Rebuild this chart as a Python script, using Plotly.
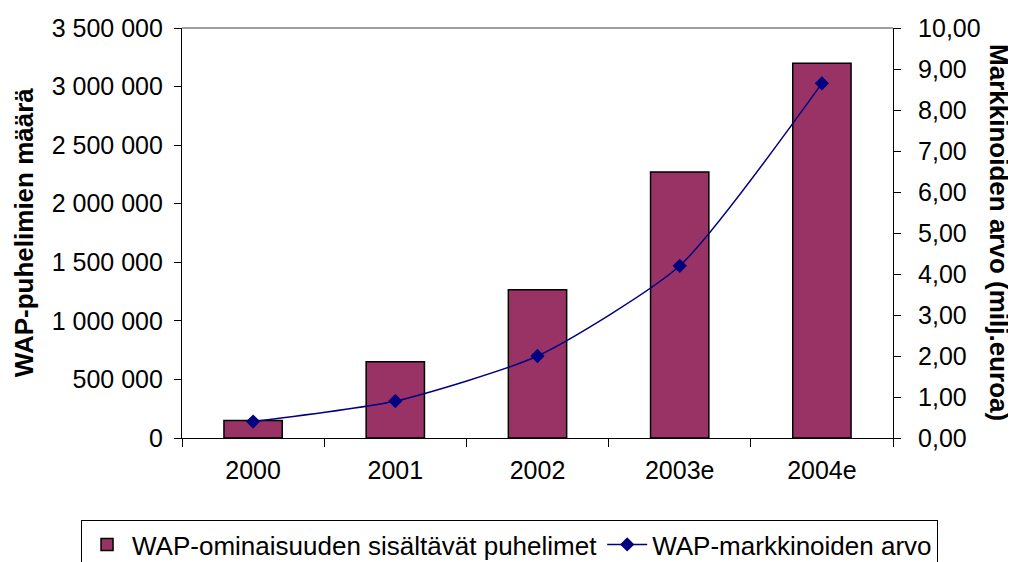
import plotly.graph_objects as go

years = ["2000", "2001", "2002", "2003e", "2004e"]
phones = [150000, 650000, 1265000, 2270000, 3200000]
market_value = [0.40, 0.90, 2.00, 4.20, 8.65]

left_ticks = [0, 500000, 1000000, 1500000, 2000000, 2500000, 3000000, 3500000]
right_ticks = [0, 1, 2, 3, 4, 5, 6, 7, 8, 9, 10]

FONT = "Liberation Sans, Arial, sans-serif"

fig = go.Figure()
fig.add_trace(go.Bar(
    x=years, y=phones, name="WAP-ominaisuuden sisältävät puhelimet",
    marker=dict(color="#993366", line=dict(color="black", width=1.5)),
    width=0.41, yaxis="y",
))
fig.add_trace(go.Scatter(
    x=years, y=market_value, name="WAP-markkinoiden arvo",
    mode="lines+markers", line=dict(color="#000080", width=1.5, shape="spline", smoothing=0.6),
    marker=dict(symbol="diamond", size=11, color="#000080"),
    yaxis="y2",
))

# page body has an 8px default margin, so the figure is sized/offset to compensate
fig.update_layout(
    width=1008, height=554,
    margin=dict(l=174, r=123, t=20, b=124, autoexpand=False),
    paper_bgcolor="white", plot_bgcolor="white",
    separators=", ",
    font=dict(family=FONT, size=25, color="black"),
    showlegend=True,
    legend=dict(
        orientation="h", x=-0.142, xanchor="left", y=-0.2, yanchor="top",
        bordercolor="black", borderwidth=1, font=dict(size=26, family=FONT),
        itemwidth=40, tracegroupgap=0,
    ),
    xaxis=dict(
        showline=True, linecolor="black", linewidth=1.2,
        ticks="outside", ticklen=8, tickcolor="black", tickson="boundaries",
        showgrid=False, tickfont=dict(size=25), ticklabelstandoff=10,
    ),
    yaxis=dict(
        range=[0, 3500000], tickvals=left_ticks, tickformat=",.0f",
        showline=True, linecolor="black", linewidth=1.2,
        ticks="outside", ticklen=7, tickcolor="black",
        showgrid=False, zeroline=False, tickfont=dict(size=25), ticklabelstandoff=6,
    ),
    yaxis2=dict(
        range=[0, 10], tickvals=right_ticks, tickformat=".2f",
        overlaying="y", side="right",
        showline=True, linecolor="black", linewidth=1.2,
        ticks="outside", ticklen=7, tickcolor="black",
        showgrid=False, zeroline=False, tickfont=dict(size=25), ticklabelstandoff=12,
    ),
    # inner half of the crossing tick marks on the right axis
    yaxis3=dict(
        range=[0, 10], tickvals=right_ticks, overlaying="y", side="right",
        ticks="inside", ticklen=8, tickcolor="black", showticklabels=False,
        showline=False, showgrid=False, zeroline=False,
    ),
    bargap=0.59,
)

# top border of plot area
fig.add_shape(type="line", xref="paper", yref="paper", x0=0, x1=1, y0=1, y1=1,
              line=dict(color="#808080", width=1.5))

fig.add_annotation(text="<b>WAP-puhelimien määrä</b>", xref="paper", yref="paper",
                   x=-0.222, y=0.5, textangle=-90, showarrow=False,
                   font=dict(size=26, family=FONT), xanchor="center", yanchor="middle")
fig.add_annotation(text="<b>Markkinoiden arvo (milj.euroa)</b>", xref="paper", yref="paper",
                   x=1.149, y=0.5, textangle=90, showarrow=False,
                   font=dict(size=26, family=FONT), xanchor="center", yanchor="middle")

fig.write_html("out.html")
